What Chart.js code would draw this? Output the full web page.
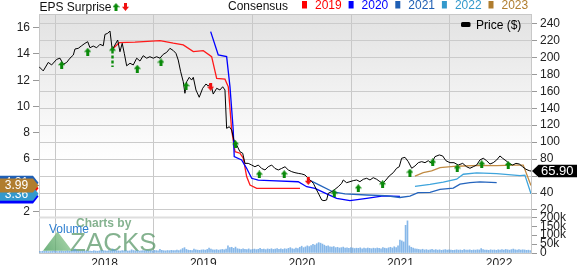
<!DOCTYPE html>
<html><head><meta charset="utf-8">
<script src="https://cdn.jsdelivr.net/npm/chart.js@4.4.1/dist/chart.umd.min.js"></script>
<style>html,body{margin:0;padding:0;background:#fff}canvas{display:block}</style>
</head><body>
<canvas id="c" width="577" height="265"></canvas>
<script>
// ---------- DATA ----------
const xRange = [2017.334, 2022.324];            // visible time span (fractional years)
const yearTicks = [2018, 2019, 2020, 2021, 2022];
const epsTicks = [2, 4, 6, 8, 10, 12, 14, 16];
const epsRange = [-1.142, 17.042];
const priceTicks = [20, 40, 60, 80, 100, 120, 140, 160, 180, 200, 220, 240];
const priceRange = [-30.70, 251.08];
const volTicks = [0, 50000, 100000, 150000, 200000];
const volRange = [0, 1339000];

// price ($) [time, price]
const price = [
[2017.334,189],[2017.377,184],[2017.428,194],[2017.462,191],[2017.513,197.6],[2017.547,199],[2017.580,191.7],[2017.615,194],
[2017.648,199],[2017.682,202.7],[2017.699,209.8],[2017.732,210.6],[2017.767,213.7],[2017.800,216.5],[2017.828,218.4],[2017.851,211.3],
[2017.884,213.3],[2017.919,211.3],[2017.952,215.3],[2017.986,213.7],[2018.003,227],[2018.030,228.3],[2018.054,231],[2018.077,208.6],
[2018.104,214.5],[2018.132,220.4],[2018.155,206.6],[2018.178,216.5],[2018.199,204.7],[2018.223,190],[2018.257,193],[2018.290,191],
[2018.325,199],[2018.358,195.6],[2018.391,201.9],[2018.426,199],[2018.459,200.7],[2018.493,199],[2018.527,200.7],[2018.561,199],
[2018.594,203.5],[2018.629,205.9],[2018.662,210.6],[2018.696,208],[2018.723,204.7],[2018.746,196.8],[2018.771,183],[2018.797,171.3],
[2018.814,157.6],[2018.832,171.3],[2018.858,176.4],[2018.882,173.2],[2018.899,176.4],[2018.926,161.5],[2018.959,152.9],[2018.994,163.5],
[2019.027,168.5],[2019.051,166.2],[2019.075,169.4],[2019.101,156.7],[2019.136,163.5],[2019.169,161.5],[2019.197,165.3],[2019.220,161.5],
[2019.237,116.3],[2019.264,118.2],[2019.288,114.3],[2019.311,102.5],[2019.339,96.6],[2019.372,88.7],[2019.400,86.9],[2019.423,75],
[2019.456,75],[2019.491,73],[2019.524,71],[2019.558,73],[2019.592,69],[2019.626,67.2],[2019.659,71],[2019.694,73],
[2019.727,69],[2019.761,67.2],[2019.795,69],[2019.829,71],[2019.862,67.2],[2019.897,65.2],[2019.930,64],[2019.963,63.2],
[2019.998,62.5],[2020.031,61.3],[2020.065,57.4],[2020.116,51.5],[2020.150,43.6],[2020.176,37.7],[2020.201,31.8],[2020.224,31],
[2020.251,31.8],[2020.268,39.7],[2020.302,41.6],[2020.336,44.4],[2020.369,47.5],[2020.404,51.5],[2020.420,55.4],[2020.454,52.2],
[2020.488,53.4],[2020.521,54.6],[2020.556,55.4],[2020.589,53.4],[2020.623,56.2],[2020.657,57.4],[2020.691,55.4],[2020.724,58.1],
[2020.759,56.2],[2020.792,53.4],[2020.819,51.5],[2020.853,55.4],[2020.886,60.1],[2020.927,64],[2020.961,69.2],[2020.988,71],
[2021.012,81],[2021.046,82.1],[2021.079,77],[2021.114,69.2],[2021.147,71.9],[2021.181,75.8],[2021.215,77],[2021.249,75.8],
[2021.282,78.1],[2021.316,75],[2021.350,82.9],[2021.394,84.9],[2021.428,83.7],[2021.461,78.1],[2021.502,75.8],[2021.543,75.8],
[2021.586,73],[2021.631,75],[2021.671,71],[2021.705,69.2],[2021.738,71],[2021.773,73],[2021.806,79],[2021.840,81],
[2021.874,78.1],[2021.908,74.2],[2021.941,75.8],[2021.976,79],[2022.009,83.7],[2022.036,81],[2022.070,78.1],[2022.103,75],
[2022.138,73],[2022.171,75],[2022.205,74.2],[2022.239,71],[2022.273,68],[2022.306,66.4],[2022.324,65.9]
];

// consensus EPS by fiscal year [time, eps]
const cons2019 = [[2018.077,14.36],[2018.148,14.86],[2018.307,14.9],[2018.561,15.02],[2018.696,14.82],[2018.797,14.69],[2018.899,14.18],
[2019.000,14.25],[2019.085,13.8],[2019.136,12.15],[2019.220,12.08],[2019.254,11.5],[2019.288,8.2],[2019.322,6.57],[2019.372,6.45],
[2019.406,6.07],[2019.440,4.67],[2019.474,4.03],[2019.542,3.78],[2019.981,3.78]];
const cons2020 = [[2019.075,15.7],[2019.152,13.93],[2019.237,13.8],[2019.271,11.5],[2019.304,8.22],[2019.314,6.19],[2019.389,5.94],
[2019.440,5.3],[2019.491,4.54],[2019.558,4.41],[2019.676,4.36],[2019.963,4.28],[2020.049,3.9],[2020.133,3.78],[2020.252,3.35],
[2020.353,3.02],[2020.488,2.84],[2020.657,3.02],[2020.826,3.2],[2020.995,3.16]];
const cons2021 = [[2020.082,4.38],[2020.184,4.0],[2020.318,3.5],[2020.437,3.35],[2020.657,3.27],[2020.843,3.22],[2020.995,3.08],
[2021.096,3.18],[2021.178,3.45],[2021.300,3.47],[2021.401,3.7],[2021.536,3.8],[2021.604,4.1],[2021.705,4.22],[2021.806,4.27],[2021.976,4.21]];
const cons2022 = [[2021.147,3.93],[2021.300,4.08],[2021.434,4.25],[2021.570,4.47],[2021.637,4.85],[2021.773,4.95],[2021.976,4.9],
[2022.212,4.75],[2022.262,4.78],[2022.324,3.36]];
const cons2023 = [[2021.147,4.7],[2021.231,4.97],[2021.316,5.1],[2021.401,5.35],[2021.570,5.46],[2021.806,5.52],[2021.976,5.5],
[2022.144,5.55],[2022.245,5.55],[2022.324,3.99]];

// EPS surprise markers, placed on price scale [time, price]
const beatArrows = [[2017.564,191.0],[2017.828,206.6],[2018.331,186.6],[2018.571,193.9],[2018.825,166.3],[2019.327,97.5],
[2019.568,61.9],[2019.821,62.2],[2020.329,39.5],[2020.572,45.7],[2020.819,50.4],[2021.096,64.2],[2021.327,76.0],
[2021.576,69.2],[2021.824,74.0],[2022.093,73.1]];
const bigBeatArrows = [[2018.079,200.4]];
const missArrows = [[2019.075,165.3],[2020.065,54.2]];

// weekly volume (thousands), first week starting at volStart
const volStart = 2017.334;
const volume = [
9,8,10,9,11,8,9,10,12,9, 8,10,11,9,10,12,10,9,14,22, 12,10,9,11,10,12,9,11,10,13, 11,10,12,14,13,
12,11,13,12,22,15,13,12,11,14, 12,13,11,12,18,14,12,13,11,12, 13,12,14,11,13,12,15,13,12,20, 15,13,12,14,13,15,14,13,16,14, 18,25,30,20,16,15,14,22,18,16,15,17,
18,16,20,28,22,18,17,19,16,18, 20,18,22,40,30,32,26,33,24,22, 20,24,21,19,23,18,20,22,19,21, 26,20,22,19,23,21,24,20,22,25, 21,23,20,24,22,26,30,24,22,28,25,32,
38,30,34,40,36,42,48,45,52,58, 55,50,44,38,40,35,33,36,30,32, 28,30,33,27,29,26,30,28,25,27, 26,29,24,27,25,28,26,24,27,25, 28,26,24,30,27,25,29,32,28,35,30,40,
72,68,62,155,180,40,32,28,24,22,
20,18,21,17,19,16,18,20,17,19, 16,18,15,17,19,16,18,17,15,16, 18,16,17,15,19,17,16,18,15,17,
16,18,17,25,19,16,17,15,18,16, 17,15,18,16,19,17,20,18,16,19, 22,18,17,19,16,18,17,15,16,14
];

const consSeries = [
  {label:'2019', data:cons2019, line:'#ff1a1a', box:'#ff0000', text:'#ff0000'},
  {label:'2020', data:cons2020, line:'#0000ff', box:'#0000ff', text:'#0000ff'},
  {label:'2021', data:cons2021, line:'#2464bd', box:'#1f5fb4', text:'#1f5fb4'},
  {label:'2022', data:cons2022, line:'#3ea4dc', box:'#3399cc', text:'#3399cc'},
  {label:'2023', data:cons2023, line:'#c08a42', box:'#b07d2e', text:'#b07d2e'}
];

// ---------- RENDER ----------
const FONT = '"Liberation Sans", Arial, Helvetica, sans-serif';
Chart.defaults.font.family = FONT;
Chart.defaults.font.size = 12;
Chart.defaults.color = '#222';

function arrowCanvas(color, up, dashed) {
  const c = document.createElement('canvas');
  const w = 7, h = dashed ? 21 : 8;
  c.width = w; c.height = h;
  const g = c.getContext('2d');
  g.fillStyle = color;
  g.beginPath();
  if (up) { g.moveTo(3.5,0); g.lineTo(7,4.2); g.lineTo(0,4.2); }
  else { g.moveTo(3.5,h); g.lineTo(7,h-4.2); g.lineTo(0,h-4.2); }
  g.closePath(); g.fill();
  if (dashed) { for (let y = 4; y < h; y += 5) g.fillRect(2.3, y, 2.4, 3); }
  else if (up) g.fillRect(2, 4, 3, 4);
  else g.fillRect(2, 0, 3, 4);
  return c;
}
const upImg = arrowCanvas('#0a8a0a', true, false);
const bigUpImg = arrowCanvas('#0a8a0a', true, true);
const downImg = arrowCanvas('#f01010', false, false);

const xy = arr => arr.map(p => ({x: p[0], y: p[1]}));

const datasets = [
  {type:'scatter', data:xy(missArrows), yAxisID:'yPrice', pointStyle:downImg, pointRadius:4},
  {type:'scatter', data:xy(bigBeatArrows), yAxisID:'yPrice', pointStyle:bigUpImg, pointRadius:4},
  {type:'scatter', data:xy(beatArrows), yAxisID:'yPrice', pointStyle:upImg, pointRadius:4},
  {type:'line', data:xy(price), yAxisID:'yPrice', borderColor:'#000', borderWidth:1, pointRadius:0, tension:0},
  ...consSeries.slice().reverse().map(s => ({type:'line', data:xy(s.data), yAxisID:'yEps', borderColor:s.line, borderWidth:1.3, pointRadius:0, tension:0})),
  {type:'bar', data:volume.map((v,i) => ({x: volStart + i*7/365.25, y: v*1000})), yAxisID:'yVol', xAxisID:'x',
   backgroundColor:'rgba(95,160,225,0.75)', barThickness:1, grouped:false}
];

const PANEL_SPLIT = 217.5;

const bgPlugin = {
  id:'bg',
  afterLayout(chart) {
    // volume axis shares the right column with the price axis
    const s = chart.scales.yVol;
    s.left = chart.chartArea.right; s.right = chart.width; s.width = s.right - s.left;
  },
  beforeDraw(chart) {
    const {ctx, chartArea:a} = chart;
    ctx.save();
    ctx.fillStyle = '#fff'; ctx.fillRect(0,0,chart.width,chart.height);
    const g = ctx.createLinearGradient(0, a.top, 0, PANEL_SPLIT);
    g.addColorStop(0, '#e2e2e2'); g.addColorStop(0.72, '#ffffff'); g.addColorStop(1, '#ffffff');
    ctx.fillStyle = g; ctx.fillRect(a.left, a.top, a.right-a.left, PANEL_SPLIT-a.top);
    ctx.restore();
  },
  beforeDatasetsDraw(chart) {
    const {ctx, chartArea:a} = chart;
    ctx.save();
    ctx.fillStyle = '#dedede'; ctx.fillRect(a.left, PANEL_SPLIT-1, a.right-a.left, 2);
    ctx.strokeStyle = '#c8c8c8'; ctx.lineWidth = 1;
    ctx.beginPath(); ctx.moveTo(a.left, a.top+0.5); ctx.lineTo(a.right, a.top+0.5); ctx.stroke();
    // watermark
    const tg = ctx.createLinearGradient(43, 250, 72, 232);
    tg.addColorStop(0, 'rgba(60,150,80,0.75)'); tg.addColorStop(1, 'rgba(140,200,140,0.7)');
    ctx.fillStyle = tg;
    ctx.beginPath(); ctx.moveTo(43,250.7); ctx.lineTo(72,250.7); ctx.lineTo(57.5,231.5); ctx.closePath(); ctx.fill();
    ctx.fillStyle = 'rgba(80,145,95,0.7)';
    ctx.font = 'bold 12px ' + FONT; ctx.textBaseline = 'alphabetic'; ctx.textAlign = 'left';
    ctx.fillText('Charts by', 76, 226.5);
    ctx.font = '26px ' + FONT;
    ctx.fillText('ZACKS', 70, 250.7);
    ctx.font = '12px ' + FONT; ctx.fillStyle = '#2f7fd0';
    ctx.fillText('Volume', 49, 233.3);
    ctx.restore();
  },
  afterDraw(chart) {
    const {ctx} = chart;
    const yEps = chart.scales.yEps, yPrice = chart.scales.yPrice;
    ctx.save();
    ctx.font = '12px ' + FONT; ctx.textBaseline = 'alphabetic'; ctx.textAlign = 'left';
    // top legend
    ctx.fillStyle = '#111';
    ctx.fillText('EPS Surprise', 39.5, 11);
    ctx.drawImage(upImg, 112.5, 3);
    ctx.drawImage(downImg, 122, 3);
    ctx.fillText('Consensus', 228, 9.5);
    const sqX = [302, 348.6, 395.3, 441.9, 488.5];
    consSeries.forEach((s, i) => {
      ctx.fillStyle = s.box; ctx.fillRect(sqX[i], 1, 5, 7.5);
      ctx.fillStyle = s.text; ctx.fillText(s.label, sqX[i] + 13, 9);
    });
    // price legend
    ctx.fillStyle = '#000';
    ctx.beginPath(); ctx.roundRect(461, 22, 9.5, 5, 1.5); ctx.fill();
    ctx.fillText('Price ($)', 476, 28.5);
    // left consensus value boxes
    ctx.textAlign = 'center'; ctx.textBaseline = 'middle';
    consSeries.forEach(s => {
      const v = s.data[s.data.length-1][1];
      const y = yEps.getPixelForValue(v);
      ctx.fillStyle = s.box;
      ctx.beginPath(); ctx.moveTo(0, y-7); ctx.lineTo(33, y-7); ctx.lineTo(38.5, y); ctx.lineTo(33, y+7); ctx.lineTo(0, y+7); ctx.closePath(); ctx.fill();
      ctx.fillStyle = '#fff'; ctx.fillText(v.toFixed(2), 16.5, y+0.5);
    });
    // last price box
    const lp = price[price.length-1][1];
    const py = yPrice.getPixelForValue(lp);
    ctx.fillStyle = '#000';
    ctx.beginPath(); ctx.moveTo(532, py); ctx.lineTo(538.5, py-6.3); ctx.lineTo(577, py-6.3); ctx.lineTo(577, py+6.3); ctx.lineTo(538.5, py+6.3); ctx.closePath(); ctx.fill();
    ctx.fillStyle = '#fff'; ctx.font = '13px ' + FONT; ctx.textAlign = 'left';
    ctx.fillText(lp.toFixed(2), 541, py+0.5);
    ctx.restore();
  }
};

const lastPrice = price[price.length-1][1];
const setTicks = list => (s => { s.ticks = list.map(v => ({value: v})); });

new Chart(document.getElementById('c'), {
  type: 'line',
  data: {datasets},
  plugins: [bgPlugin],
  options: {
    responsive: false, animation: false, devicePixelRatio: 1, events: [],
    layout: {padding: {top: 14, left: 0, right: 0, bottom: 0}},
    plugins: {legend: {display: false}, tooltip: {enabled: false}},
    scales: {
      x: {
        type: 'linear', position: 'bottom', min: xRange[0], max: xRange[1], offset: false,
        afterBuildTicks: setTicks(yearTicks), afterFit: s => { s.height = 12; },
        grid: {color: '#c8c8c8', drawTicks: false, lineWidth: 1},
        border: {display: true, color: '#c8c8c8'},
        ticks: {padding: 3, autoSkip: false, maxRotation: 0, color: '#222', callback: v => String(v)}
      },
      yEps: {
        type: 'linear', position: 'left', min: epsRange[0], max: epsRange[1],
        afterBuildTicks: setTicks(epsTicks), afterFit: s => { s.width = 39; },
        grid: {drawOnChartArea: false, drawTicks: true, tickLength: 6, color: '#999'},
        border: {display: true, color: '#c8c8c8'},
        ticks: {padding: 3, autoSkip: false, color: '#222', callback: v => String(v)}
      },
      yPrice: {
        type: 'linear', position: 'right', min: priceRange[0], max: priceRange[1],
        afterBuildTicks: setTicks(priceTicks), afterFit: s => { s.width = 46; },
        grid: {drawOnChartArea: true, color: '#cbcbcb', drawTicks: true, tickLength: 6, tickColor: '#999'},
        border: {display: true, color: '#c8c8c8'},
        ticks: {padding: 3, autoSkip: false, color: '#222', callback: v => Math.abs(v - lastPrice) < 10 ? '' : String(v)}
      },
      yVol: {
        type: 'linear', position: 'right', min: volRange[0], max: volRange[1],
        afterBuildTicks: setTicks(volTicks), afterFit: s => { s.width = 0; },
        grid: {drawOnChartArea: false, drawTicks: true, tickLength: 6, color: '#999'},
        border: {display: false},
        ticks: {padding: 3, autoSkip: false, color: '#222', callback: v => v === 0 ? '0' : (v/1000) + 'k'}
      }
    }
  }
});
</script>
</body></html>
